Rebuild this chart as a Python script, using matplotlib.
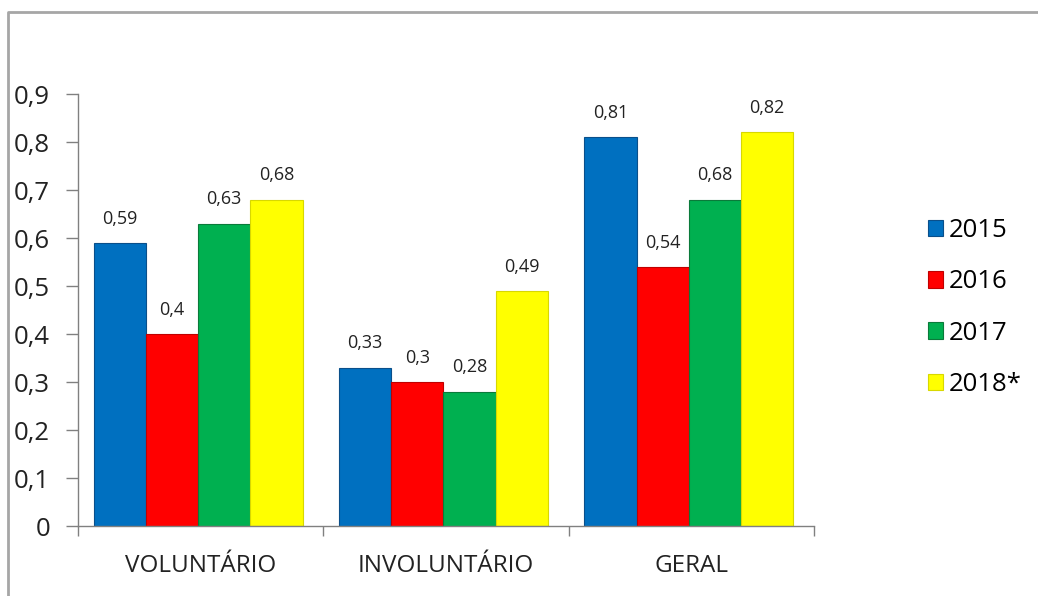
import matplotlib.pyplot as plt
import numpy as np
from matplotlib.lines import Line2D
from matplotlib.patches import Patch

plt.rcParams['font.family'] = ['Open Sans', 'DejaVu Sans']

categorias = ['VOLUNTÁRIO', 'INVOLUNTÁRIO', 'GERAL']
anos = ['2015', '2016', '2017', '2018*']
v2015 = [0.59, 0.33, 0.81]
v2016 = [0.40, 0.30, 0.54]
v2017 = [0.63, 0.28, 0.68]
v2018 = [0.68, 0.49, 0.82]
series = [v2015, v2016, v2017, v2018]

cores = ['#0070C0', '#FF0000', '#00B050', '#FFFF00']
bordas = ['#0a4f8a', '#c00000', '#0a7a3a', '#d8d800']

fig = plt.figure(figsize=(10.38, 5.96), dpi=100)
ax = fig.add_axes([0.0751, 0.1174, 0.709, 0.7248])

x = np.arange(len(categorias))
w = 0.213
for i, (vals, cor, borda) in enumerate(zip(series, cores, bordas)):
    barras = ax.bar(x + (i - 1.5) * w - 0.01, vals, w, color=cor, edgecolor=borda,
                    linewidth=0.8, label=anos[i])
    ax.bar_label(barras, labels=[f'{v:g}'.replace('.', ',') for v in vals],
                 padding=11, fontsize=13, color='#222222')

ax.set_xlim(-0.5, 2.5)
ax.set_ylim(0, 0.9)
ax.set_yticks(np.arange(0, 0.91, 0.1))
ax.set_yticklabels(['0' if t == 0 else f'{t:.1f}'.replace('.', ',')
                    for t in np.arange(0, 0.91, 0.1)])

# category boundaries get the tick marks, centers get the labels
ax.set_xticks([-0.5, 0.5, 1.5, 2.5])
ax.set_xticklabels([])
ax.set_xticks(x, minor=True)
ax.set_xticklabels(categorias, minor=True)
ax.tick_params(axis='x', which='major', length=7, width=1, color='#808080',
               direction='out')
ax.tick_params(axis='x', which='minor', length=0, pad=20, labelsize=17.5,
               labelcolor='#222222')
ax.tick_params(axis='y', length=9, width=1, color='#808080', pad=11,
               labelsize=18.5, labelcolor='#222222')

for s in ['top', 'right']:
    ax.spines[s].set_visible(False)
for s in ['left', 'bottom']:
    ax.spines[s].set_color('#808080')
    ax.spines[s].set_linewidth(1)

handles = [Patch(facecolor=c, edgecolor=b, linewidth=0.8) for c, b in zip(cores, bordas)]
fig.legend(handles, anos, loc='center left', bbox_to_anchor=(0.884, 0.484),
           frameon=False, fontsize=18.5, handlelength=0.6, handleheight=0.6,
           handletextpad=0.2, labelspacing=1.02, borderaxespad=0)

# outer chart frame
fig.add_artist(Line2D([0.0077, 0.0077, 1.0], [0.0, 0.98, 0.98],
                      transform=fig.transFigure, color='#a6a6a6', linewidth=2))

fig.savefig('out.png', dpi=100)
